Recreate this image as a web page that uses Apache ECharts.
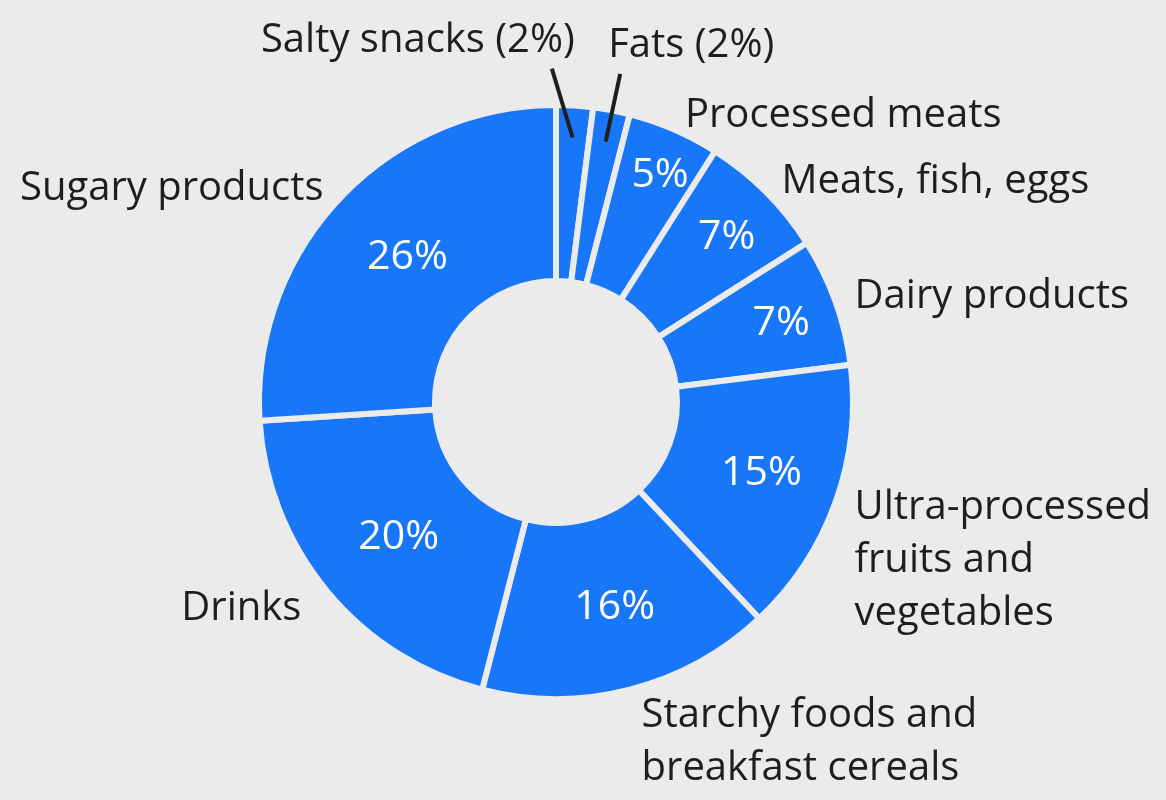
<!DOCTYPE html>
<html lang="en">
<head>
    <meta charset="UTF-8">
    <script type="text/javascript" src="https://cdn.jsdelivr.net/npm/echarts@6/dist/echarts.min.js"></script>
    <style>
        html, body { margin: 0; padding: 0; background: #ebebeb; }
        #main { width: 1166px; height: 800px; }
    </style>
</head>
<body>
    <div id="main"></div>
    <script type="text/javascript">
        // 各类食品占比（%），从12点方向顺时针
        var categories = ['Salty snacks', 'Fats', 'Processed meats', 'Meats, fish, eggs', 'Dairy products',
            'Ultra-processed fruits and vegetables', 'Starchy foods and breakfast cereals', 'Drinks', 'Sugary products'];
        var shares = [2, 2, 5, 7, 7, 15, 16, 20, 26];
        // 外侧标签文字（含换行）
        var outerLabels = ['Salty snacks (2%)', 'Fats (2%)', 'Processed meats', 'Meats, fish, eggs', 'Dairy products',
            'Ultra-processed\nfruits and\nvegetables', 'Starchy foods and\nbreakfast cereals', 'Drinks', 'Sugary products'];
        // 只有这两个小块用引线
        var withLine = [true, true, false, false, false, false, false, false, false];

        var BG = '#ebebeb';
        var BLUE = '#1877f8';
        var INK = '#1e1e1e';
        var FONT = 'Open Sans';
        var LINE_H = 53;
        var CENTER = [556, 402];

        var myChart = echarts.init(document.getElementById('main'));

        var innerData = categories.map(function (c, i) {
            return {
                name: c,
                value: shares[i],
                label: { show: !withLine[i] }
            };
        });

        var outerData = categories.map(function (c, i) {
            var len = (i === 6 || i === 7) ? 27 : 15;   // 下方两个标签离得稍远
            return {
                name: outerLabels[i],
                value: shares[i],
                labelLine: withLine[i] ? { show: true, length: 35, length2: 0 } : { show: false, length: len, length2: 0 }
            };
        });

        var option = {
            backgroundColor: BG,
            animation: false,
            series: [
                {
                    name: 'share',
                    type: 'pie',
                    z: 2,
                    center: CENTER,
                    radius: [121, 297],
                    startAngle: 90,
                    clockwise: true,
                    avoidLabelOverlap: false,
                    silent: true,
                    itemStyle: { color: BLUE, borderColor: BG, borderWidth: 6 },
                    label: {
                        position: 'inside',
                        formatter: '{c}%',
                        color: '#ffffff',
                        fontFamily: FONT,
                        fontSize: 41
                    },
                    // 窄扇区的百分比往外挪一点
                    labelLayout: function (p) {
                        var v = shares[p.dataIndex];
                        if (v >= 10) return { dx: 6 };
                        var rc = p.labelRect;
                        var cx = rc.x + rc.width / 2 - CENTER[0], cy = rc.y + rc.height / 2 - CENTER[1];
                        var d = Math.sqrt(cx * cx + cy * cy);
                        var push = (10 - v) * 7;
                        return { dx: cx / d * push + 6, dy: cy / d * push };
                    },
                    data: innerData
                },
                {
                    name: 'names',
                    type: 'pie',
                    z: 5,
                    center: CENTER,
                    radius: [121, 297],
                    startAngle: 90,
                    clockwise: true,
                    avoidLabelOverlap: false,
                    silent: true,
                    itemStyle: { color: 'rgba(0,0,0,0)', borderWidth: 0 },
                    label: {
                        position: 'outside',
                        formatter: '{b}',
                        color: INK,
                        fontFamily: FONT,
                        fontSize: 40,
                        lineHeight: LINE_H,
                        distanceToLabelLine: 5
                    },
                    labelLine: {
                        lineStyle: { color: INK, width: 4 }
                    },
                    // 多行标签以首行对齐锚点；两个小块的引线从扇区内部伸出
                    labelLayout: function (p) {
                        var r = { verticalAlign: 'top', dy: -LINE_H / 2 };
                        if (p.dataIndex > 1) return r;
                        var pts = p.labelLinePoints;
                        r.dy -= 30;
                        r.dx = p.dataIndex === 0 ? -7 : -15;
                        if (p.dataIndex === 0) r.align = 'right';
                        if (pts && pts.length >= 2) {
                            var a = pts[0], b = pts[pts.length - 1];
                            var len = Math.sqrt((b[0] - a[0]) * (b[0] - a[0]) + (b[1] - a[1]) * (b[1] - a[1]));
                            var ux = (b[0] - a[0]) / len, uy = (b[1] - a[1]) / len;
                            var start = [a[0] - ux * 32, a[1] - uy * 32];
                            var end = [b[0] + (p.dataIndex === 0 ? -25 : 2), b[1] - 2];
                            r.labelLinePoints = [start, end];
                        }
                        return r;
                    },
                    data: outerData
                }
            ]
        };
        myChart.setOption(option);
    </script>
</body>
</html>
